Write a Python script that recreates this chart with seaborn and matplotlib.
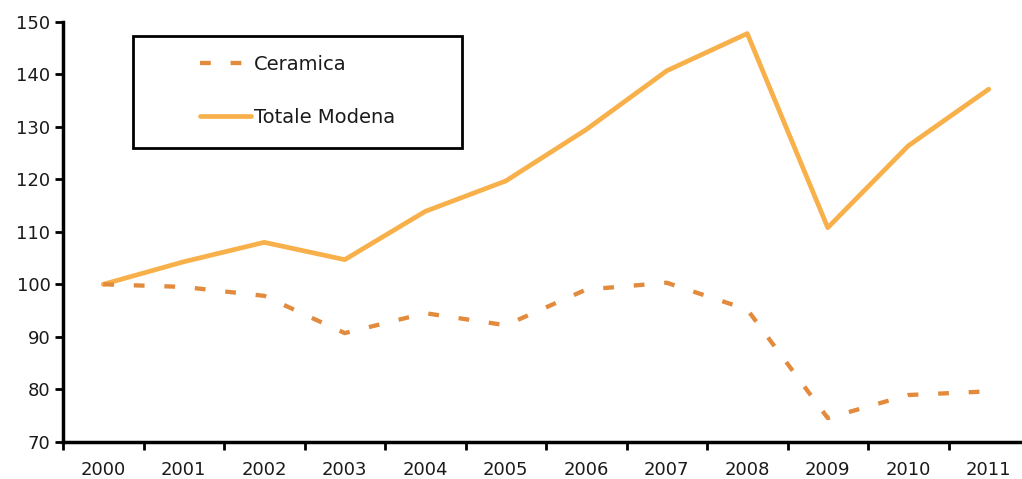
import matplotlib
matplotlib.use("Agg")
import matplotlib.pyplot as plt
import matplotlib.patches as mpatches
import seaborn as sns
import pandas as pd
import numpy as np

years = ["2000", "2001", "2002", "2003", "2004", "2005",
         "2006", "2007", "2008", "2009", "2010", "2011"]
ceramica = [100, 99.5, 97.8, 90.7, 94.5, 92.2, 99.0, 100.3, 95.2, 74.5, 78.9, 79.6]
totale_modena = [100, 104.3, 108.0, 104.7, 113.9, 119.7, 129.5, 140.7, 147.8, 110.8, 126.4, 137.2]
y_ticks = [70, 80, 90, 100, 110, 120, 130, 140, 150]

col_cer = "#E38B3D"
col_tot = "#F8B04A"

sns.set_theme(style="white")
plt.rcParams['font.family'] = ['DejaVu Sans']

fig = plt.figure(figsize=(10.22, 4.79), dpi=100)
ax = fig.add_axes([63/1022, 37.3/479, 966/1022, 419.7/479])

pos = np.arange(len(years))
df_c = pd.DataFrame({"x": pos, "y": ceramica})
df_t = pd.DataFrame({"x": pos, "y": totale_modena})

sns.lineplot(data=df_t, x="x", y="y", ax=ax, color=col_tot, lw=3.4,
             label="Totale Modena", zorder=3)
sns.lineplot(data=df_c, x="x", y="y", ax=ax, color=col_cer, lw=3.1,
             label="Ceramica", zorder=4)
lc = ax.get_lines()[1]
lc.set_dashes((2.5, 4.6))
lc.set_dash_capstyle("butt")

ax.set_xlim(-0.5, 11.5)
ax.set_ylim(70, 150)
ax.set_yticks(y_ticks)
ax.set_xticks(pos)
ax.set_xticklabels(years)
ax.set_xticks(np.arange(-0.5, 12, 1), minor=True)
ax.tick_params(axis="x", which="major", length=0, pad=14, labelsize=13, colors="#1a1a1a")
ax.tick_params(axis="x", which="minor", length=6, width=2, color="black", direction="out", bottom=True)
ax.tick_params(axis="y", length=6, width=2, color="black", direction="out", pad=3, labelsize=13,
               left=True, labelcolor="#1a1a1a")
ax.set_xlabel("")
ax.set_ylabel("")
for s in ["top", "right"]:
    ax.spines[s].set_visible(False)
for s in ["left", "bottom"]:
    ax.spines[s].set_linewidth(2.5)
    ax.spines[s].set_color("black")

# legend
handles, labels = ax.get_legend_handles_labels()
order = [labels.index("Ceramica"), labels.index("Totale Modena")]
leg = ax.legend([handles[i] for i in order], [labels[i] for i in order],
                loc="upper left", bbox_to_anchor=(0.142, 0.921), frameon=False,
                fontsize=14, handlelength=2.6, handletextpad=0.15, labelspacing=1.75,
                borderpad=0, borderaxespad=0)
for t in leg.get_texts():
    t.set_color("#1a1a1a")
rect = mpatches.Rectangle((133/1022, (479-148)/479), (462-133)/1022, 112/479,
                          transform=fig.transFigure, fill=False, edgecolor="black", lw=2.0)
fig.patches.append(rect)

fig.savefig("out.png", dpi=100, facecolor="white")
